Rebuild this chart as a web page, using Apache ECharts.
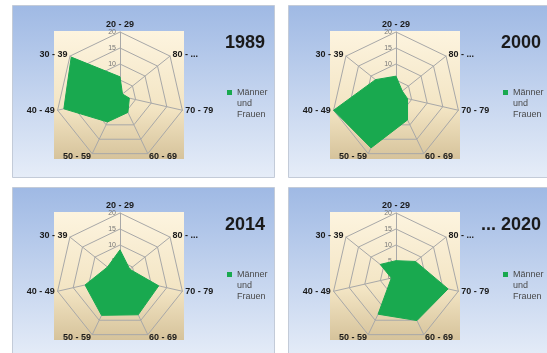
<!DOCTYPE html>
<html>
<head>
<meta charset="utf-8">
<script src="https://cdn.jsdelivr.net/npm/echarts@6/dist/echarts.min.js"></script>
<style>
 html,body{margin:0;padding:0;background:#fff;}
 #main{width:547px;height:353px;}
</style>
</head>
<body>
<div id="main"></div>
<script>
//Altersgruppen (gegen den Uhrzeigersinn ab oben)
var ageGroups = ['20 - 29', '30 - 39', '40 - 49', '50 - 59', '60 - 69', '70 - 79', '80 - ...'];
var years = ['1989', '2000', '2014', '... 2020'];
var seriesName = 'Männer und Frauen';
//Werte je Jahr
var data1989 = [6, 19.5, 18, 9, 5.7, 3, 1];
var data2000 = [6.2, 8.2, 20, 18, 8.3, 3.7, 2.5];
var data2014 = [8.5, 5, 11.2, 13.3, 13.1, 12.4, 3.9];
var data2020 = [5.1, 6.3, 1.5, 12.9, 15.1, 16.7, 7.8];
var axisMax = 20;
var allData = [data1989, data2000, data2014, data2020];

var font = 'Arial, "Liberation Sans", sans-serif';
var green = '#19a94f';
//Panel-Positionen
var panels = [
    {x: 12, y: 5, cx: 120, cy: 96},
    {x: 288, y: 5, cx: 396, cy: 96},
    {x: 12, y: 187, cx: 120, cy: 277},
    {x: 288, y: 187, cx: 396, cy: 277}
];
var panelW = 262, panelH = 172, radius = 64;

var graphics = [];
var radars = [];
var series = [];
var titles = [];
var legends = [];

for (var i = 0; i < panels.length; i++) {
    var p = panels[i];
    //Hintergrund
    graphics.push({
        type: 'rect', z: -20,
        shape: {x: p.x + 0.5, y: p.y + 0.5, width: panelW, height: panelH},
        style: {
            fill: new echarts.graphic.LinearGradient(0, 0, 0, 1, [
                {offset: 0, color: '#9fb9e4'},
                {offset: 1, color: '#e6edf8'}
            ]),
            stroke: '#c3cbd8', lineWidth: 1
        }
    });
    //beige Zeichenfläche
    graphics.push({
        type: 'rect', z: -19,
        shape: {x: p.cx - 66, y: p.cy - 65, width: 130, height: 128},
        style: {
            fill: new echarts.graphic.LinearGradient(0, 0, 0, 1, [
                {offset: 0, color: '#fdf4df'},
                {offset: 0.6, color: '#f3e5c4'},
                {offset: 1, color: '#d6c39b'}
            ])
        }
    });

    var ind = [];
    for (var k = 0; k < ageGroups.length; k++) {
        var o = {name: ageGroups[k], max: axisMax, min: 0};
        if (k == 0) {
            o.axisLabel = {show: true};
        }
        ind.push(o);
    }
    radars.push({
        center: [p.cx, p.cy],
        radius: radius,
        startAngle: 90,
        shape: 'polygon',
        splitNumber: 4,
        indicator: ind,
        nameGap: 3,
        axisName: {color: '#1a1a1a', fontSize: 9, fontWeight: 'bold', fontFamily: font},
        axisLine: {lineStyle: {color: '#a8a8a8', width: 1}},
        splitLine: {lineStyle: {color: '#a8a8a8', width: 1}},
        splitArea: {show: false},
        axisTick: {show: false},
        axisLabel: {show: false, fontSize: 7, color: '#777', fontFamily: font, margin: 4, showMinLabel: true, showMaxLabel: true}
    });
    series.push({
        name: seriesName,
        type: 'radar',
        radarIndex: i,
        symbol: 'none',
        lineStyle: {color: green, width: 1},
        itemStyle: {color: green},
        areaStyle: {color: green, opacity: 1},
        data: [{value: allData[i], name: seriesName}]
    });
    titles.push({
        text: years[i],
        right: 547 - (p.x + 253),
        top: p.y + 29,
        padding: 0,
        textStyle: {fontSize: 18, fontWeight: 'bold', color: '#1a1a1a', fontFamily: font}
    });
    //zwei Leerzeilen vorne, damit das Symbol auf Höhe der ersten Zeile steht
    legends.push({
        data: [seriesName],
        left: p.x + 215,
        top: p.y + 60,
        orient: 'vertical',
        icon: 'rect',
        itemWidth: 5,
        itemHeight: 5,
        padding: 0,
        selectedMode: false,
        formatter: function (name) { return '\n\n' + name.replace(/ /g, '\n'); },
        textStyle: {fontSize: 9, color: '#4a4a4a', fontFamily: font, lineHeight: 11}
    });
}

var chart = echarts.init(document.getElementById('main'));
chart.setOption({
    animation: false,
    backgroundColor: '#fff',
    graphic: {elements: graphics},
    title: titles,
    legend: legends,
    radar: radars,
    series: series
});
</script>
</body>
</html>
